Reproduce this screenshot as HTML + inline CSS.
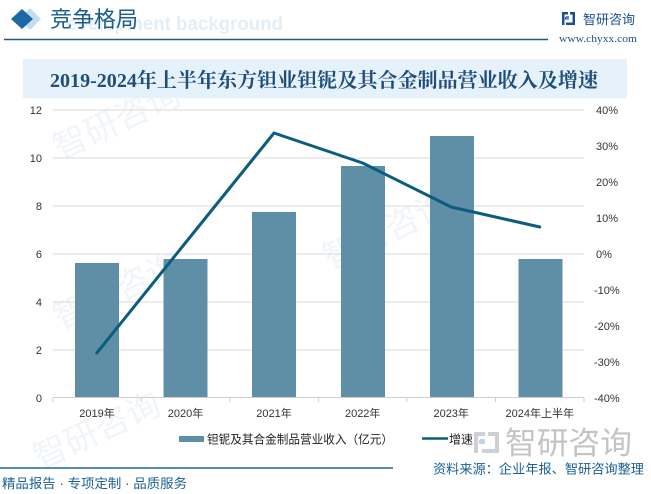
<!DOCTYPE html>
<html><head><meta charset="utf-8">
<style>
html,body{margin:0;padding:0;background:#fff;}
body{width:651px;height:494px;overflow:hidden;}
svg{display:block;font-family:"Liberation Sans","Noto Sans CJK SC",sans-serif;}
</style></head>
<body>
<svg width="651" height="494" viewBox="0 0 651 494" xmlns="http://www.w3.org/2000/svg">
<rect width="651" height="494" fill="#ffffff"/>
<!-- faint watermarks -->
<g fill="#f1f5f9">
<text x="60" y="160" font-size="34" transform="rotate(-25 60 160)" style="font-family:'Noto Sans CJK SC',sans-serif">智研咨询</text>
<text x="60" y="330" font-size="34" transform="rotate(-25 60 330)" style="font-family:'Noto Sans CJK SC',sans-serif">智研咨询</text>
<text x="330" y="270" font-size="34" transform="rotate(-25 330 270)" style="font-family:'Noto Sans CJK SC',sans-serif">智研咨询</text>
<text x="40" y="470" font-size="34" transform="rotate(-25 40 470)" style="font-family:'Noto Sans CJK SC',sans-serif">智研咨询</text>
</g>
<!-- header -->
<polygon points="30,8 41,19 30,30 19,19" fill="#c4dcef"/>
<polygon points="22,9 33,19 22,29 11,19" fill="#1a69a4"/>
<text x="67" y="30" font-size="19" font-weight="bold" fill="#e2eef8" textLength="216" lengthAdjust="spacingAndGlyphs" style="font-family:'Liberation Sans',sans-serif">evelopment background</text>
<text x="50" y="27" font-size="22" fill="#1c5d8f" textLength="88" lengthAdjust="spacingAndGlyphs" style="font-family:'Noto Sans CJK SC',sans-serif">竞争格局</text>
<line x1="4" y1="39.5" x2="548" y2="39.5" stroke="#1f5a8a" stroke-width="1.5"/>
<!-- logo -->
<g fill="#1e4f8c">
<rect x="562" y="12" width="6" height="2.5"/>
<rect x="562" y="12" width="2.5" height="13"/>
<rect x="565" y="17" width="4" height="2.5"/>
<rect x="570" y="12" width="5" height="2.5"/>
<rect x="572.5" y="12" width="2.5" height="13"/>
<rect x="566" y="22.5" width="9" height="2.5"/>
</g>
<rect x="566" y="16" width="3" height="3" fill="#4a90d0"/>
<text x="583" y="24" font-size="13" fill="#1e4f8c" textLength="52" lengthAdjust="spacingAndGlyphs" style="font-family:'Noto Sans CJK SC',sans-serif">智研咨询</text>
<text x="559" y="42" font-size="10" fill="#1e4f8c" textLength="78" lengthAdjust="spacingAndGlyphs" style="font-family:'Liberation Serif',serif">www.chyxx.com</text>
<!-- title box -->
<rect x="23" y="59" width="604" height="39" fill="#e6f2fb"/>
<text x="50" y="87" font-size="20" font-weight="bold" fill="#1f4e79" textLength="548" lengthAdjust="spacingAndGlyphs" style="font-family:'Liberation Serif','Noto Serif CJK SC',serif">2019-2024年上半年东方钽业钽铌及其合金制品营业收入及增速</text>
<!-- gridlines -->
<g stroke="#d9d9d9" stroke-width="1">
<line x1="52.7" y1="110" x2="584" y2="110"/>
<line x1="52.7" y1="158" x2="584" y2="158"/>
<line x1="52.7" y1="206" x2="584" y2="206"/>
<line x1="52.7" y1="254" x2="584" y2="254"/>
<line x1="52.7" y1="302" x2="584" y2="302"/>
<line x1="52.7" y1="350" x2="584" y2="350"/>
</g>
<!-- bars -->
<g fill="#5f8fa7">
<rect x="75" y="263" width="44" height="134.5"/>
<rect x="163.5" y="259" width="44" height="138.5"/>
<rect x="252" y="212" width="44" height="185.5"/>
<rect x="341" y="166" width="44" height="231.5"/>
<rect x="430" y="136" width="44" height="261.5"/>
<rect x="518.5" y="259" width="44" height="138.5"/>
</g>
<!-- x axis -->
<g stroke="#cfcfcf" stroke-width="1">
<line x1="52.7" y1="397.5" x2="584" y2="397.5"/>
<line x1="52.7" y1="397.5" x2="52.7" y2="402"/>
<line x1="141.3" y1="397.5" x2="141.3" y2="402"/>
<line x1="229.8" y1="397.5" x2="229.8" y2="402"/>
<line x1="318.4" y1="397.5" x2="318.4" y2="402"/>
<line x1="407" y1="397.5" x2="407" y2="402"/>
<line x1="495.5" y1="397.5" x2="495.5" y2="402"/>
<line x1="584" y1="397.5" x2="584" y2="402"/>
</g>
<!-- line -->
<polyline points="96.8,353 185.3,243 274,133 362.6,163 451.2,207 539.8,227" fill="none" stroke="#0b5d7e" stroke-width="3" stroke-linejoin="round" stroke-linecap="round"/>
<!-- left axis labels -->
<g font-size="11" fill="#333" text-anchor="end">
<text x="42" y="114">12</text>
<text x="42" y="162">10</text>
<text x="42" y="210">8</text>
<text x="42" y="258">6</text>
<text x="42" y="306">4</text>
<text x="42" y="354">2</text>
<text x="42" y="402">0</text>
</g>
<!-- right axis labels -->
<g font-size="11" fill="#333">
<text x="596" y="114">40%</text>
<text x="596" y="150">30%</text>
<text x="596" y="186">20%</text>
<text x="596" y="222">10%</text>
<text x="596" y="258">0%</text>
<text x="594" y="294">-10%</text>
<text x="594" y="330">-20%</text>
<text x="594" y="366">-30%</text>
<text x="594" y="402">-40%</text>
</g>
<!-- x labels -->
<g font-size="11" fill="#333" text-anchor="middle">
<text x="97" y="417">2019年</text>
<text x="185.5" y="417">2020年</text>
<text x="274" y="417">2021年</text>
<text x="362.7" y="417">2022年</text>
<text x="451.2" y="417">2023年</text>
<text x="539.8" y="417">2024年上半年</text>
</g>
<!-- watermark logo bottom -->
<g fill="#cdd0d5">
<rect x="474" y="432" width="11" height="4"/>
<rect x="474" y="432" width="4" height="21"/>
<rect x="479" y="440" width="6" height="4"/>
<rect x="488" y="432" width="11" height="4"/>
<rect x="495" y="432" width="4" height="21"/>
<rect x="482" y="449" width="17" height="4"/>
</g>
<rect x="480" y="439" width="5" height="5" fill="#bcd6ea"/>
<text x="505" y="454" font-size="31" fill="#c4c4c4" textLength="127" lengthAdjust="spacingAndGlyphs" style="font-family:'Noto Sans CJK SC',sans-serif">智研咨询</text>
<!-- legend -->
<rect x="179" y="436" width="25" height="6" fill="#5f8fa7"/>
<text x="207" y="443.5" font-size="12" fill="#222" textLength="186" lengthAdjust="spacingAndGlyphs">钽铌及其合金制品营业收入（亿元）</text>
<line x1="422" y1="438.5" x2="448" y2="438.5" stroke="#0b5d7e" stroke-width="2.5"/>
<text x="449" y="443.5" font-size="12" fill="#222">增速</text>
<!-- footer -->
<line x1="0" y1="468" x2="393" y2="468" stroke="#1f6a9a" stroke-width="1.5"/>
<text x="433" y="473.5" font-size="13" fill="#1a5f94" textLength="211" lengthAdjust="spacingAndGlyphs">资料来源：企业年报、智研咨询整理</text>
<text x="2" y="488" font-size="13" fill="#1a5f94" textLength="185" lengthAdjust="spacingAndGlyphs">精品报告 · 专项定制 · 品质服务</text>
</svg>
</body></html>
